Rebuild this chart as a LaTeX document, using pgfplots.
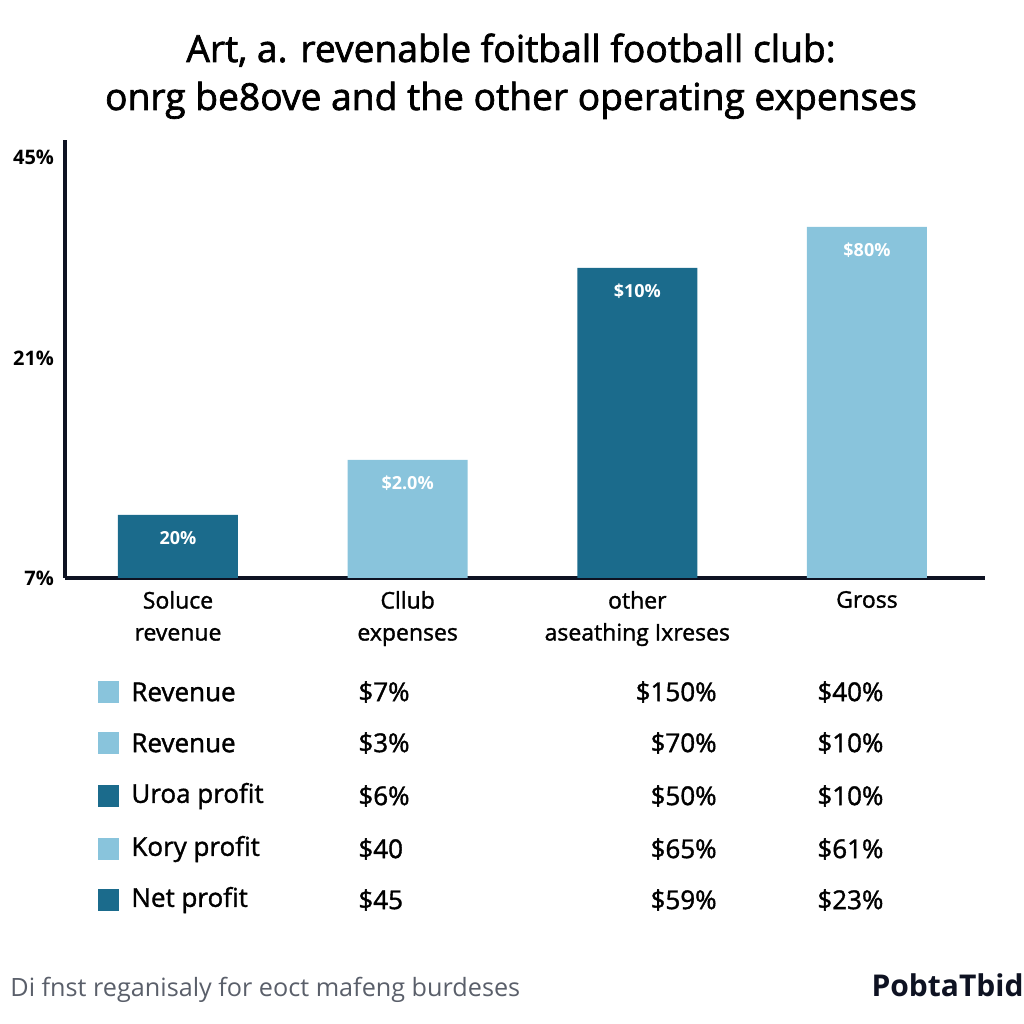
\documentclass[border=0pt]{standalone}
\usepackage{pgfplots}
\pgfplotsset{compat=1.18}
\usepackage{fontspec}
\setmainfont{Open Sans}
\newfontfamily\semib[FakeBold=1.8]{Open Sans}
\newfontfamily\medf[FakeBold=1.4]{Open Sans}
\definecolor{darkbar}{HTML}{1B6B8C}
\definecolor{lightbar}{HTML}{89C4DC}
\definecolor{axisc}{HTML}{0E1222}
\definecolor{footc}{HTML}{5A5F6A}
\begin{document}
\begin{tikzpicture}[x=0.5pt,y=0.5pt]
\path (0,0) rectangle (1024,1024);
\begin{axis}[
  at={(32.5pt,223pt)}, anchor=south west,
  scale only axis, width=460pt, height=219pt,
  xmin=-0.492, xmax=3.514, ymin=0, ymax=438,
  axis lines*=left,
  axis line style={line width=2pt, color=axisc, -},
  major tick length=0pt,
  ytick={0,220,421}, yticklabels={7\%,21\%,45\%},
  yticklabel style={font=\bfseries\fontsize{10}{12}\selectfont, anchor=east, xshift=-2pt},
  xtick={0,1,2,3},
  xticklabels={Soluce\\revenue, Cllub\\expenses, other\\aseathing Ixreses, Gross},
  xticklabel style={align=center, font=\medf\fontsize{11.5}{16}\selectfont, anchor=north, yshift=-3pt},
  clip=false,
]
\addplot[ybar, bar width=60pt, bar shift=0pt, fill=darkbar, draw=none,
  point meta=explicit symbolic, nodes near coords,
  nodes near coords style={font=\bfseries\fontsize{9}{10}\selectfont, color=white, anchor=center, yshift=-11.5pt}]
  coordinates {(0,63) [20\%] (2,310) [\$10\%]};
\addplot[ybar, bar width=60pt, bar shift=0pt, fill=lightbar, draw=none,
  point meta=explicit symbolic, nodes near coords,
  nodes near coords style={font=\bfseries\fontsize{9}{10}\selectfont, color=white, anchor=center, yshift=-11.5pt}]
  coordinates {(1,118) [\$2.0\%] (3,351) [\$80\%]};
\end{axis}
% title
\node[font=\semib\fontsize{18.6}{22}\selectfont, anchor=base] at (511,962) {Art, a. revenable foitball football club:};
\node[font=\semib\fontsize{18.6}{22}\selectfont, anchor=base] at (511,914) {onrg be8ove and the other operating expenses};
% table
\begin{scope}[every node/.style={font=\medf\fontsize{13}{15}\selectfont, inner sep=0pt}]
\foreach \y/\c/\t/\a/\b/\d in {
  692/lightbar/Revenue/\$7\%/\$150\%/\$40\%,
  743/lightbar/Revenue/\$3\%/\$70\%/\$10\%,
  796/darkbar/Uroa profit/\$6\%/\$50\%/\$10\%,
  849/lightbar/Kory profit/\$40/\$65\%/\$61\%,
  900/darkbar/Net profit/\$45/\$59\%/\$23\%}{
  \fill[\c] (98,{1024-\y-11}) rectangle (119,{1024-\y+11});
  \node[anchor=west] at (131,{1024-\y}) {\t};
  \node[anchor=west] at (358,{1024-\y}) {\a};
  \node[anchor=east] at (717,{1024-\y}) {\b};
  \node[anchor=west] at (817,{1024-\y}) {\d};
}
\end{scope}
% footer
\node[anchor=west, font=\fontsize{12.6}{15}\selectfont, color=footc, inner sep=0pt] at (10,34) {Di fnst reganisaly for eoct mafeng burdeses};
\node[anchor=east, font=\bfseries\fontsize{15}{17}\selectfont, color=axisc, inner sep=0pt] at (1024,39) {PobtaTbid};
\end{tikzpicture}
\end{document}
